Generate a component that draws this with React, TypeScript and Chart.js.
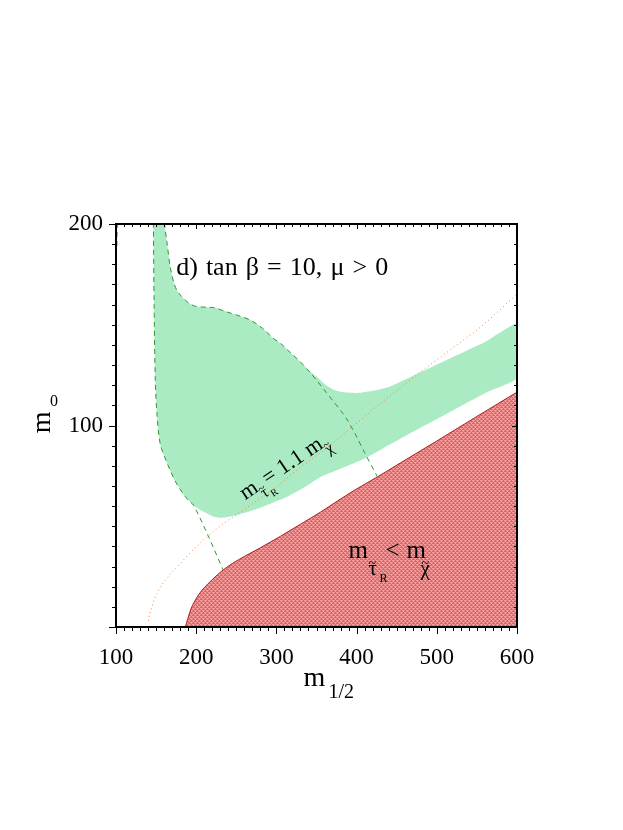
import React, { useEffect, useRef } from 'react';
import { Chart, registerables } from 'chart.js';

Chart.register(...registerables);

// ---- axis ticks ----
const xTicks = [100, 200, 300, 400, 500, 600];
const yTicks = [100, 200];
const xMinorStep = 10;
const yMinorStep = 10;

// ---- green (allowed relic density) region, closed outline ----
const greenX = [146.4, 146.6, 147.5, 149, 151, 155, 161, 167.5, 175, 184, 190, 196.7,
  204, 213, 221, 230, 250, 271, 290, 313, 335, 355, 380, 405, 430, 455, 480, 520, 560, 606,
  606, 560, 520, 480, 442.5, 420, 405, 395, 380, 370, 359, 350, 340, 330, 318, 305, 296, 282,
  267.5, 255, 238, 222, 213, 199, 190, 182, 176, 172, 167.5, 163.5, 160.5, 160];
const greenY = [205, 200, 160, 122.5, 106, 91, 84, 77.8, 71.5, 66, 63, 60.4,
  58.3, 56.4, 54.8, 54.2, 55.5, 57.9, 60.8, 64.5, 69.3, 74.4, 78.5, 82.7, 88, 93.5, 99, 107.5, 116, 125.5,
  151, 141.5, 134, 126.5, 119.5, 117.2, 116.3, 116.2, 116.8, 118, 121, 124.3, 127.5, 131.5, 136, 140.8, 143.3, 148.5,
  152.3, 154.2, 156.4, 158.5, 158.7, 159.2, 161, 164, 167, 171, 179, 191, 200, 205];

// ---- red excluded region (stau LSP) upper boundary ----
const redX = [186.5, 188, 190.5, 193.5, 197, 203, 210, 220, 232, 245, 260, 280, 305, 330, 355, 376, 400, 426, 455, 500, 550, 606];
const redY = [0, 2, 5.5, 9, 12, 16, 19.5, 23.5, 27.8, 31.5, 35, 39.3, 45, 51, 57, 62.5, 68.5, 74.5, 81.5, 92.3, 104.5, 118];

// ---- dashed contours ----
const dashLeftX = [146.4, 146.6, 147.5, 149, 151, 155, 161, 167.5, 175, 184, 190, 196.7, 215.9, 233.5];
const dashLeftY = [205, 200, 160, 122.5, 106, 91, 84, 77.8, 71.5, 66, 63, 60.4, 44.4, 28.3];
const dashRightX = [160, 160.5, 163.5, 167.5, 172, 176, 182, 190, 199, 213, 222, 238, 255, 267.5, 282, 296, 305, 318, 330, 340, 351, 362, 371, 380, 388, 398, 410, 426];
const dashRightY = [205, 200, 191, 179, 171, 167, 164, 161, 159.2, 158.7, 158.5, 156.4, 154.2, 152.3, 148.5, 143.3, 140.8, 136, 131.5, 127.2, 122, 116.5, 112, 107.5, 103, 96, 86.5, 74.5];
const dashCornerX = [101.9, 101.7, 101.3, 101.0];
const dashCornerY = [205, 200, 194, 188];

// ---- dotted line m_stau = 1.1 m_chi ----
const dotX = [140.4, 142, 144.6, 147.5, 150.8, 160, 176, 193, 213, 233, 255, 282, 300, 326, 360, 392.5, 430, 480, 520, 555, 606];
const dotY = [3, 6.5, 9.8, 13.5, 16.5, 22.5, 29.7, 37, 44.6, 51, 57, 64.5, 69.5, 78, 88, 98.6, 111, 126.6, 138.5, 149, 167.5];

const pts = (xs: number[], ys: number[]) => xs.map((x, i) => ({ x, y: ys[i] }));

const FONT = '"Liberation Serif", "Times New Roman", serif';

function makePattern(): CanvasPattern | string {
  const c = document.createElement('canvas');
  c.width = 4;
  c.height = 4;
  const g = c.getContext('2d');
  if (!g) return 'rgb(232,120,120)';
  g.fillStyle = 'rgb(224,100,104)';
  g.fillRect(0, 0, 4, 4);
  g.fillStyle = 'rgb(246,158,158)';
  g.fillRect(0, 0, 2, 1);
  g.fillRect(2, 2, 2, 1);
  g.fillRect(1, 1, 1, 1);
  g.fillRect(3, 3, 1, 1);
  g.fillStyle = 'rgb(238,135,135)';
  g.fillRect(2, 0, 1, 1);
  g.fillRect(0, 2, 1, 1);
  return g.createPattern(c, 'repeat') || 'rgb(232,120,120)';
}

function t(ctx: CanvasRenderingContext2D, s: string, x: number, y: number, size: number) {
  ctx.font = `${size}px ${FONT}`;
  ctx.fillText(s, x, y);
}

// draw words so that the whole line spans the given width
function spread(ctx: CanvasRenderingContext2D, s: string, x: number, y: number, size: number, width: number) {
  ctx.font = `${size}px ${FONT}`;
  const words = s.split(' ');
  const ws = words.map((w) => ctx.measureText(w).width);
  const total = ws.reduce((p, c) => p + c, 0);
  const gap = (width - total) / (words.length - 1);
  let cx = x;
  words.forEach((w, i) => {
    ctx.fillText(w, cx, y);
    cx += ws[i] + gap;
  });
}

const decorPlugin = {
  id: 'decor',
  afterDatasetsDraw(chart: any) {
    const { ctx, chartArea: a, scales } = chart;
    const xs = scales.x;
    const ys = scales.y;
    ctx.save();
    ctx.strokeStyle = '#000';
    ctx.fillStyle = '#000';
    // ticks
    ctx.lineWidth = 1;
    ctx.beginPath();
    for (let v = xs.min; v <= xs.max + 1e-6; v += xMinorStep) {
      const p = Math.round(xs.getPixelForValue(v)) + 0.5;
      const major = xTicks.includes(v);
      ctx.moveTo(p, a.bottom);
      ctx.lineTo(p, a.bottom + (major ? 7 : 4));
      ctx.moveTo(p, a.top);
      ctx.lineTo(p, a.top + (major ? 5 : 3));
    }
    for (let v = ys.min; v <= ys.max + 1e-6; v += yMinorStep) {
      const p = Math.round(ys.getPixelForValue(v)) + 0.5;
      const major = v % 100 === 0;
      ctx.moveTo(a.left, p);
      ctx.lineTo(a.left - (major ? 7 : 4), p);
      ctx.moveTo(a.right, p);
      ctx.lineTo(a.right - (major ? 5 : 3), p);
    }
    ctx.stroke();
    // frame
    ctx.lineWidth = 2;
    ctx.strokeRect(a.left, a.top, a.right - a.left, a.bottom - a.top);

    ctx.textAlign = 'left';
    ctx.textBaseline = 'alphabetic';

    // panel title
    {
      const x0 = xs.getPixelForValue(175);
      const y0 = ys.getPixelForValue(174.7);
      spread(ctx, 'd) tan β = 10, μ > 0', x0, y0, 26, 212);
    }
    // label inside red region
    {
      const x0 = xs.getPixelForValue(390);
      const y0 = ys.getPixelForValue(34);
      t(ctx, 'm', x0, y0, 25);
      t(ctx, '~', x0 + 20, y0 + 9.8, 14);
      t(ctx, 'τ', x0 + 20, y0 + 17, 21);
      t(ctx, 'R', x0 + 31, y0 + 24, 12);
      t(ctx, '<', x0 + 37, y0, 25);
      t(ctx, 'm', x0 + 58, y0, 25);
      t(ctx, '~', x0 + 73, y0 + 9.8, 14);
      t(ctx, 'χ', x0 + 72, y0 + 17, 21);
    }
    // rotated label along dotted line
    {
      const x0 = xs.getPixelForValue(261.25);
      const y0 = ys.getPixelForValue(62.9);
      ctx.save();
      ctx.translate(x0, y0);
      ctx.rotate((-34 * Math.PI) / 180);
      t(ctx, 'm', 0, 0, 22);
      t(ctx, '~', 17, 3, 12);
      t(ctx, 'τ', 17, 9, 16);
      t(ctx, 'R', 25, 13, 10);
      t(ctx, '= 1.1 m', 27, 0, 22);
      t(ctx, '~', 95, 3, 12);
      t(ctx, 'χ', 95, 9, 16);
      ctx.restore();
    }
    // x axis title
    {
      const x0 = xs.getPixelForValue(333.75);
      const y0 = a.bottom + 58.5;
      t(ctx, 'm', x0, y0, 28);
      t(ctx, '1/2', x0 + 25, y0 + 12, 20);
    }
    // y axis title
    {
      const x0 = a.left - 66;
      const y0 = ys.getPixelForValue(96.1);
      ctx.save();
      ctx.translate(x0, y0);
      ctx.rotate(-Math.PI / 2);
      t(ctx, 'm', 0, 0, 28);
      ctx.restore();
      t(ctx, '0', x0, y0 - 27, 16);
    }
    ctx.restore();
  },
};

export default function App() {
  const ref = useRef<HTMLCanvasElement>(null);

  useEffect(() => {
    const canvas = ref.current;
    if (!canvas) return;
    const pattern = makePattern();
    const chart = new Chart(canvas, {
      type: 'line',
      data: {
        datasets: [
          {
            label: 'dotted',
            data: pts(dotX, dotY),
            borderColor: 'rgb(240,130,60)',
            borderWidth: 1,
            borderDash: [1, 3],
            pointRadius: 0,
            fill: false,
            cubicInterpolationMode: 'monotone',
            order: 1,
          } as any,
          {
            label: 'dashLeft',
            data: pts(dashLeftX, dashLeftY),
            borderColor: 'rgb(50,150,50)',
            borderWidth: 1,
            borderDash: [5, 4],
            pointRadius: 0,
            fill: false,
            tension: 0.3,
            order: 2,
          },
          {
            label: 'dashRight',
            data: pts(dashRightX, dashRightY),
            borderColor: 'rgb(50,150,50)',
            borderWidth: 1,
            borderDash: [5, 4],
            pointRadius: 0,
            fill: false,
            tension: 0.3,
            order: 2,
          },
          {
            label: 'dashCorner',
            data: pts(dashCornerX, dashCornerY),
            borderColor: 'rgb(50,150,50)',
            borderWidth: 1,
            borderDash: [5, 4],
            pointRadius: 0,
            fill: false,
            order: 2,
          },
          {
            label: 'red',
            data: pts(redX, redY),
            borderColor: 'rgb(170,30,30)',
            borderWidth: 1,
            backgroundColor: pattern as any,
            pointRadius: 0,
            fill: 'origin',
            cubicInterpolationMode: 'monotone',
            order: 4,
          } as any,
          {
            label: 'green',
            data: pts(greenX, greenY),
            borderWidth: 0,
            borderColor: 'rgba(0,0,0,0)',
            backgroundColor: 'rgb(170,235,196)',
            pointRadius: 0,
            fill: 'shape',
            tension: 0.25,
            order: 5,
          } as any,
        ],
      },
      options: {
        responsive: false,
        maintainAspectRatio: false,
        animation: false,
        events: [],
        layout: { padding: { top: 216, right: 98, bottom: 95, left: 0 } },
        plugins: { legend: { display: false }, tooltip: { enabled: false }, title: { display: false } },
        scales: {
          x: {
            type: 'linear',
            min: 100,
            max: 600,
            grid: { display: false },
            border: { display: false },
            afterBuildTicks: (s: any) => {
              s.ticks = xTicks.map((v) => ({ value: v }));
            },
            afterFit: (s: any) => {
              s.height = 100;
            },
            ticks: {
              autoSkip: false,
              maxRotation: 0,
              padding: 9,
              color: '#000',
              font: { family: FONT, size: 23 },
            },
          },
          y: {
            type: 'linear',
            min: 0,
            max: 200,
            grid: { display: false },
            border: { display: false },
            afterBuildTicks: (s: any) => {
              s.ticks = yTicks.map((v) => ({ value: v }));
            },
            afterFit: (s: any) => {
              s.width = 108;
            },
            ticks: {
              autoSkip: false,
              padding: 5,
              color: '#000',
              font: { family: FONT, size: 23 },
            },
          },
        },
      } as any,
      plugins: [decorPlugin],
    });
    return () => chart.destroy();
  }, []);

  return (
    <div style={{ width: 607, height: 814 }}>
      <canvas ref={ref} width={607} height={814} style={{ width: 607, height: 814, display: 'block' }} />
    </div>
  );
}
